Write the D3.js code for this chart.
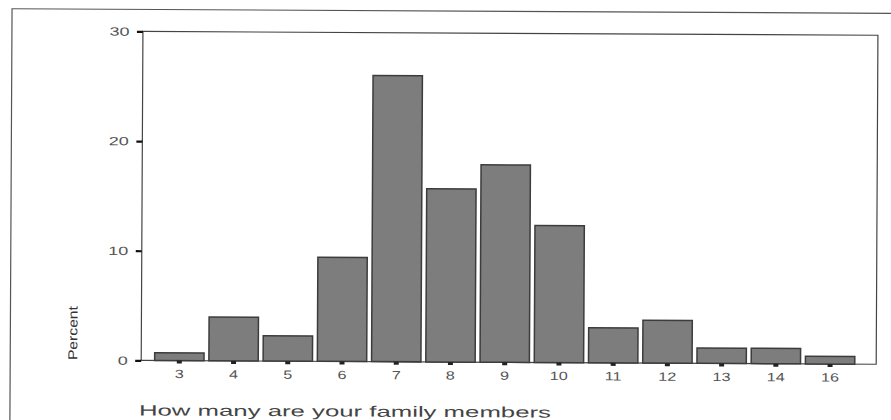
<!DOCTYPE html>
<html>
<head>
<meta charset="utf-8">
<script src="https://cdn.jsdelivr.net/npm/d3@7"></script>
<style>
  body { margin: 0; background: #fff; }
  text { font-family: "Liberation Sans", Arial, sans-serif; }
</style>
</head>
<body>
<div id="chart"></div>
<script>
// family size categories and percent of respondents
familySize = ["3", "4", "5", "6", "7", "8", "9", "10", "11", "12", "13", "14", "16"]
percent = [0.7, 4.0, 2.3, 9.5, 26.1, 15.8, 18.0, 12.5, 3.2, 3.9, 1.4, 1.4, 0.7]
yTicks = [0, 10, 20, 30]

W = 891, H = 420
plot = {left: 142, top: 33, right: 877, bottom: 362}

svg = d3.select("#chart")
  .append("svg")
  .attr("width", W)
  .attr("height", H)

// whole page scanned slightly crooked
g = svg.append("g")
  .attr("transform", "rotate(0.3, 445, 210)")

// outer frame, runs off the page on the right and bottom
g.append("rect")
  .attr("x", 11).attr("y", 11)
  .attr("width", 920).attr("height", 440)
  .attr("fill", "none")
  .attr("stroke", "#555")
  .attr("stroke-width", 1.2)

// plot frame
g.append("rect")
  .attr("x", plot.left).attr("y", plot.top)
  .attr("width", plot.right - plot.left)
  .attr("height", plot.bottom - plot.top)
  .attr("fill", "none")
  .attr("stroke", "#444")
  .attr("stroke-width", 1.2)

x = d3.scaleBand()
  .domain(familySize)
  .range([153, 858])
  .paddingInner(0.09)
  .paddingOuter(0.045)

y = d3.scaleLinear()
  .domain([0, 30])
  .range([plot.bottom, plot.top])

// bars
g.selectAll(".bar")
  .data(familySize)
  .join("rect")
    .attr("class", "bar")
    .attr("x", d => x(d))
    .attr("y", (d, i) => y(percent[i]))
    .attr("width", x.bandwidth())
    .attr("height", (d, i) => y(0) - y(percent[i]))
    .attr("fill", "#7d7d7d")
    .attr("stroke", "#3c3c3c")
    .attr("stroke-width", 1.5)

// y axis
yAxis = g.append("g")
  .attr("transform", `translate(${plot.left}, 0)`)
  .call(d3.axisLeft(y).tickValues(yTicks).tickSize(6).tickPadding(3))
yAxis.select(".domain").remove()
yAxis.selectAll(".tick line").attr("stroke", "#111").attr("stroke-width", 2.2)
yAxis.selectAll(".tick text")
  .attr("transform", "scale(1.5,1)")
  .attr("fill", "#555")
  .style("font-size", "12px")

// x axis
xAxis = g.append("g")
  .attr("transform", `translate(0, ${plot.bottom})`)
  .call(d3.axisBottom(x).tickSize(3).tickPadding(6))
xAxis.select(".domain").remove()
xAxis.selectAll(".tick line").attr("stroke", "#222").attr("stroke-width", 5)
xAxis.selectAll(".tick text")
  .attr("transform", "scale(1.35,1)")
  .attr("fill", "#555")
  .style("font-size", "12px")

// axis titles
g.append("text")
  .attr("transform", "translate(78, 335) rotate(-90)")
  .attr("text-anchor", "middle")
  .attr("textLength", 54)
  .attr("lengthAdjust", "spacingAndGlyphs")
  .attr("fill", "#333")
  .style("font-size", "13px")
  .text("Percent")

g.append("text")
  .attr("x", 140)
  .attr("y", 417)
  .attr("textLength", 412)
  .attr("lengthAdjust", "spacingAndGlyphs")
  .attr("fill", "#444")
  .style("font-size", "15px")
  .text("How many are your family members")
</script>
</body>
</html>
